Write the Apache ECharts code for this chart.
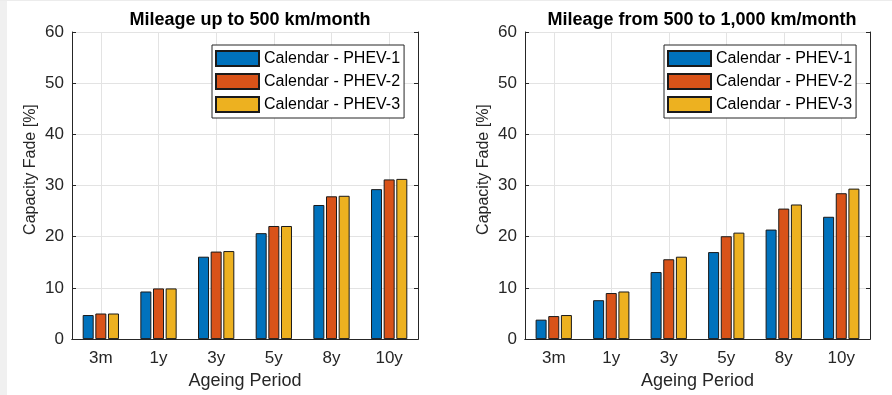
<!DOCTYPE html>
<html>
<head>
<meta charset="utf-8">
<title>Capacity Fade</title>
<script src="https://cdn.jsdelivr.net/npm/echarts@6/dist/echarts.min.js"></script>
<style>
  html, body {
    margin: 0;
    padding: 0;
    background: #ffffff;
  }
  .edge {
    position: absolute;
    left: 0;
    top: 0;
    width: 7px;
    height: 395px;
    background: #f0f0f0;
  }
  .topline {
    position: absolute;
    left: 0;
    top: 0;
    width: 892px;
    height: 1px;
    background: #ececec;
  }
  #chart {
    position: absolute;
    left: 0;
    top: 0;
    width: 892px;
    height: 395px;
  }
</style>
</head>
<body>
<div class="edge"></div>
<div class="topline"></div>
<div id="chart"></div>
<script>
const categories = ['3m', '1y', '3y', '5y', '8y', '10y']
const seriesNames = ['Calendar - PHEV-1', 'Calendar - PHEV-2', 'Calendar - PHEV-3']
const titles = ['Mileage up to 500 km/month', 'Mileage from 500 to 1,000 km/month']

// up to 500 km/month
const lowPhev1 = [4.7, 9.3, 16.1, 20.7, 26.2, 29.3]
const lowPhev2 = [5.0, 9.9, 17.1, 22.1, 27.9, 31.2]
const lowPhev3 = [5.0, 9.9, 17.2, 22.1, 28.0, 31.3]

// 500 to 1,000 km/month
const highPhev1 = [3.8, 7.6, 13.1, 17.0, 21.4, 23.9]
const highPhev2 = [4.5, 9.0, 15.6, 20.1, 25.5, 28.5]
const highPhev3 = [4.7, 9.3, 16.1, 20.8, 26.3, 29.4]

const colors = ['#0072BD', '#D95319', '#EDB120']
const font = "'Liberation Sans', Arial, sans-serif"
const axisColor = '#262626'
const gridColor = '#e3e3e3'

const grids = [
  { left: 72, top: 32, width: 346, height: 309 },
  { left: 525, top: 32, width: 345, height: 309 }
]

function bottomAxis(gridIndex) {
  return {
    type: 'category',
    gridIndex,
    data: categories,
    position: 'bottom',
    name: 'Ageing Period',
    nameLocation: 'middle',
    nameGap: 31,
    nameTextStyle: { fontFamily: font, fontSize: 18, color: axisColor },
    axisLine: { lineStyle: { color: axisColor, width: 1 } },
    axisTick: { inside: true, alignWithLabel: true, length: 4, lineStyle: { color: axisColor } },
    axisLabel: { margin: 11, fontFamily: font, fontSize: 17, color: axisColor },
    splitLine: { show: true, alignWithLabel: true, lineStyle: { color: gridColor, width: 1 } }
  }
}

function topAxis(gridIndex) {
  return {
    type: 'category',
    gridIndex,
    data: categories,
    position: 'top',
    axisLine: { lineStyle: { color: axisColor, width: 1 } },
    axisTick: { inside: true, alignWithLabel: true, length: 4, lineStyle: { color: axisColor } },
    axisLabel: { show: false },
    splitLine: { show: false }
  }
}

function leftAxis(gridIndex) {
  return {
    type: 'value',
    gridIndex,
    position: 'left',
    min: 0,
    max: 60,
    interval: 10,
    name: 'Capacity Fade [%]',
    nameLocation: 'middle',
    nameGap: 33,
    nameTextStyle: { fontFamily: font, fontSize: 16, color: axisColor, padding: [0, 0, 0, 32] },
    axisLine: { show: true, lineStyle: { color: axisColor, width: 1 } },
    axisTick: { show: true, inside: true, length: 4, lineStyle: { color: axisColor } },
    axisLabel: { margin: 8, fontFamily: font, fontSize: 17, color: axisColor },
    splitLine: { show: true, lineStyle: { color: gridColor, width: 1 } }
  }
}

function rightAxis(gridIndex) {
  return {
    type: 'value',
    gridIndex,
    position: 'right',
    min: 0,
    max: 60,
    interval: 10,
    axisLine: { show: true, lineStyle: { color: axisColor, width: 1 } },
    axisTick: { show: true, inside: true, length: 4, lineStyle: { color: axisColor } },
    axisLabel: { show: false },
    splitLine: { show: false }
  }
}

function barSeries(name, data, color, axisIndex) {
  return {
    name,
    type: 'bar',
    data,
    xAxisIndex: axisIndex,
    yAxisIndex: axisIndex,
    barWidth: 11,
    barGap: '15%',
    itemStyle: { color, borderColor: '#1a1a1a', borderWidth: 1 },
    emphasis: { disabled: true }
  }
}

function legendAt(left) {
  return {
    left,
    top: 45,
    orient: 'vertical',
    data: seriesNames,
    icon: 'rect',
    itemWidth: 43,
    itemHeight: 15,
    itemGap: 6,
    padding: [5, 4, 5, 3],
    backgroundColor: '#ffffff',
    borderColor: axisColor,
    borderWidth: 1,
    borderRadius: 0,
    selectedMode: false,
    textStyle: { fontFamily: font, fontSize: 16, color: '#000000', lineHeight: 15 }
  }
}

const chart = echarts.init(document.getElementById('chart'))

const option = {
  animation: false,
  backgroundColor: 'transparent',
  color: colors,
  title: [
    {
      text: titles[0],
      left: 245,
      top: 6,
      textAlign: 'center',
      textStyle: { fontFamily: font, fontSize: 18, fontWeight: 'bold', color: '#000000' }
    },
    {
      text: titles[1],
      left: 697,
      top: 6,
      textAlign: 'center',
      textStyle: { fontFamily: font, fontSize: 18, fontWeight: 'bold', color: '#000000' }
    }
  ],
  legend: [legendAt(212), legendAt(664)],
  grid: grids,
  xAxis: [bottomAxis(0), topAxis(0), bottomAxis(1), topAxis(1)],
  yAxis: [leftAxis(0), rightAxis(0), leftAxis(1), rightAxis(1)],
  series: [
    barSeries(seriesNames[0], lowPhev1, colors[0], 0),
    barSeries(seriesNames[1], lowPhev2, colors[1], 0),
    barSeries(seriesNames[2], lowPhev3, colors[2], 0),
    barSeries(seriesNames[0], highPhev1, colors[0], 2),
    barSeries(seriesNames[1], highPhev2, colors[1], 2),
    barSeries(seriesNames[2], highPhev3, colors[2], 2)
  ]
}

chart.setOption(option)
</script>
</body>
</html>
